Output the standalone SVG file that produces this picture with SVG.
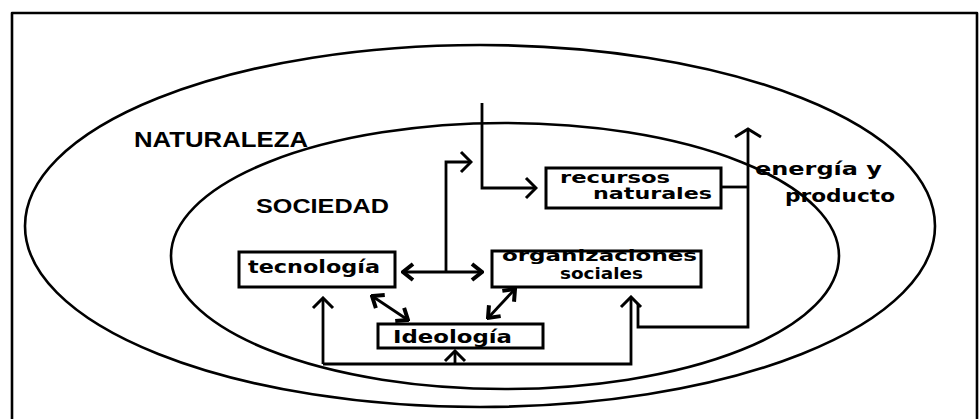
<svg xmlns="http://www.w3.org/2000/svg" width="979" height="419" viewBox="0 0 979 419">
<style>
.ln{fill:none;stroke:#000;stroke-width:2.6;stroke-linecap:round;stroke-linejoin:round}
.bx{fill:#fff;stroke:#000;stroke-width:3}
.t{font-family:"Liberation Sans",Arial,sans-serif;font-weight:bold;fill:#000}
.d{font-family:"DejaVu Sans","Liberation Sans",sans-serif;font-weight:bold;fill:#000}
.c{fill:none;stroke:#000;stroke-width:2.8;stroke-linejoin:miter}
</style>
<defs>
<marker id="a" viewBox="0 0 14 24" markerWidth="14" markerHeight="24" refX="12" refY="12" markerUnits="userSpaceOnUse" orient="auto-start-reverse">
<path d="M2,2 L12,12 L2,22" fill="none" stroke="#000" stroke-width="3"/>
</marker>
<marker id="b" viewBox="0 0 14 20" markerWidth="14" markerHeight="20" refX="12" refY="10" markerUnits="userSpaceOnUse" orient="auto-start-reverse">
<path d="M2,2 L12,10 L2,18" fill="none" stroke="#000" stroke-width="4"/>
</marker>
<marker id="w" viewBox="0 0 12 30" markerWidth="12" markerHeight="30" refX="10" refY="15" markerUnits="userSpaceOnUse" orient="auto">
<path d="M2,2 L10,15 L2,28" fill="none" stroke="#000" stroke-width="3"/>
</marker>
</defs>
<rect width="979" height="419" fill="#fff"/>
<path id="frame" class="ln" d="M12,419 V13 H977 V419"/>
<g id="naturaleza">
<ellipse class="ln" cx="480" cy="226" rx="455" ry="181"/>
<text class="t" x="134" y="147" font-size="22" textLength="174" lengthAdjust="spacingAndGlyphs">NATURALEZA</text>
</g>
<g id="sociedad">
<ellipse class="ln" cx="505" cy="256" rx="334" ry="133"/>
<text class="t" x="256" y="213" font-size="21" textLength="133" lengthAdjust="spacingAndGlyphs">SOCIEDAD</text>
</g>
<g id="recursos">
<rect class="bx" x="546" y="168" width="175" height="40"/>
<text class="d" x="560" y="183" font-size="16" textLength="110" lengthAdjust="spacingAndGlyphs">recursos</text>
<text class="d" x="593" y="199" font-size="16" textLength="119" lengthAdjust="spacingAndGlyphs">naturales</text>
</g>
<g id="tecnologia">
<rect class="bx" x="239" y="252" width="156" height="35"/>
<text class="d" x="248" y="273" font-size="18" textLength="132" lengthAdjust="spacingAndGlyphs">tecnología</text>
</g>
<g id="organizaciones">
<rect class="bx" x="492" y="251" width="209" height="36"/>
<text class="d" x="502" y="261" font-size="15" textLength="195" lengthAdjust="spacingAndGlyphs">organizaciones</text>
<text class="d" x="560" y="279" font-size="15" textLength="83" lengthAdjust="spacingAndGlyphs">sociales</text>
</g>
<g id="ideologia">
<rect class="bx" x="378" y="324" width="165" height="24"/>
<text class="d" x="393" y="343" font-size="18" textLength="119" lengthAdjust="spacingAndGlyphs">Ideología</text>
</g>
<g id="energia">
<text class="d" x="755" y="175" font-size="18" textLength="127" lengthAdjust="spacingAndGlyphs">energía y</text>
<text class="d" x="785" y="202" font-size="18" textLength="110" lengthAdjust="spacingAndGlyphs">producto</text>
</g>
<g id="connectors">
<path class="c" d="M482,103 V188 H536" marker-end="url(#a)"/>
<path class="c" d="M446,272 V162 H471" marker-end="url(#a)"/>
<path class="c" d="M403,272 H482" stroke-width="3.5" marker-start="url(#b)" marker-end="url(#b)"/>
<path class="c" d="M372,296 L408,320" stroke-width="3.5" marker-start="url(#b)" marker-end="url(#b)"/>
<path class="c" d="M515,289 L488,318" stroke-width="3.5" marker-start="url(#b)" marker-end="url(#b)"/>
<path class="c" d="M323,364 V298" marker-end="url(#a)"/>
<path class="c" d="M323,364 H631 V297" marker-end="url(#a)"/>
<path class="c" d="M455,364 V351" marker-end="url(#a)"/>
<path class="c" d="M721,187 H748"/>
<path class="c" d="M638,304 V327 H748 V129" marker-end="url(#w)"/>
</g>
</svg>
